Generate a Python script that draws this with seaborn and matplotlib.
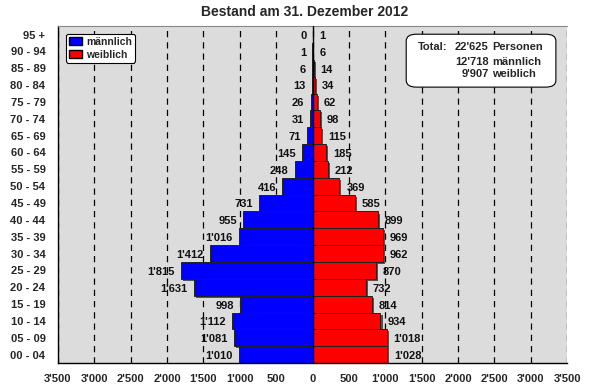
import matplotlib
matplotlib.use("Agg")
import matplotlib.pyplot as plt
import matplotlib.patheffects as pe
from matplotlib.patches import Patch, FancyBboxPatch
from matplotlib import font_manager
import seaborn as sns
import pandas as pd

# Age groups, youngest first
age_groups = ["00 - 04", "05 - 09", "10 - 14", "15 - 19", "20 - 24", "25 - 29",
              "30 - 34", "35 - 39", "40 - 44", "45 - 49", "50 - 54", "55 - 59",
              "60 - 64", "65 - 69", "70 - 74", "75 - 79", "80 - 84", "85 - 89",
              "90 - 94", "95 +"]
maennlich = [1010, 1081, 1112, 998, 1631, 1815, 1412, 1016, 955, 731,
             416, 248, 145, 71, 31, 26, 13, 6, 1, 0]
weiblich = [1028, 1018, 934, 814, 732, 870, 962, 969, 899, 585,
            369, 212, 185, 115, 98, 62, 34, 14, 6, 1]
x_ticks = [-3500, -3000, -2500, -2000, -1500, -1000, -500, 0,
           500, 1000, 1500, 2000, 2500, 3000, 3500]


def fmt(v):
    return f"{abs(int(v)):,}".replace(",", "'")


sns.set_style("white")
plt.rcParams["font.family"] = ["Liberation Sans", "DejaVu Sans"]
plt.rcParams["font.weight"] = "bold"

# regular-width bold face
bold_file = None
for f in font_manager.fontManager.ttflist:
    if f.name == "Liberation Sans" and f.weight in (700, "bold") and f.style == "normal":
        bold_file = f.fname
        break
FP = dict(fname=bold_file) if bold_file else dict(family="Liberation Sans", weight="bold")


def fp(size):
    return font_manager.FontProperties(size=size, **FP)


df = pd.DataFrame({"age": age_groups,
                   "m": [-v for v in maennlich],
                   "w": weiblich})
order = age_groups[::-1]

fig = plt.figure(figsize=(5.93, 3.90), dpi=100)
ax = fig.add_axes([0.0978, 0.069, 0.8585, 0.864])
ax.set_facecolor("#dcdcdc")

shadow = [pe.SimplePatchShadow(offset=(1.5, -1.5), shadow_rgbFace="#444444", alpha=0.9),
          pe.Normal()]

sns.barplot(data=df, x="m", y="age", order=order, orient="h", color="#0000ff",
            width=1.0, saturation=1, edgecolor="#222222", linewidth=0.7, ax=ax)
sns.barplot(data=df, x="w", y="age", order=order, orient="h", color="#ff0000",
            width=1.0, saturation=1, edgecolor="#222222", linewidth=0.7, ax=ax)
for p in ax.patches:
    p.set_path_effects(shadow)

LBL = 8
# value labels next to the bar ends
for i, age in enumerate(order):
    row = df[df["age"] == age].iloc[0]
    ax.annotate(fmt(row["m"]), (row["m"], i), xytext=(-4.5, -1), textcoords="offset points",
                ha="right", va="center", fontproperties=fp(LBL), color="#111111")
    ax.annotate(fmt(row["w"]), (row["w"], i), xytext=(5, -1), textcoords="offset points",
                ha="left", va="center", fontproperties=fp(LBL), color="#111111")

ax.set_xlim(-3500, 3500)
ax.set_ylim(len(order) - 0.5, -0.5)
ax.set_xticks(x_ticks)
ax.set_xticklabels([fmt(v) for v in x_ticks])
ax.tick_params(axis="x", direction="out", length=3, width=0.8, color="black", pad=5)
ax.tick_params(axis="y", length=0, pad=9)
for lbl in ax.get_xticklabels() + ax.get_yticklabels():
    lbl.set_fontproperties(fp(LBL))
ax.set_xlabel("")
ax.set_ylabel("")

ax.set_axisbelow(True)
ax.grid(axis="x", color="black", linestyle=(0, (5, 4)), linewidth=0.9)
ax.grid(axis="y", visible=False)
ax.axvline(0, color="black", linewidth=1.0, zorder=5)

for s in ("left", "bottom"):
    ax.spines[s].set_color("black")
    ax.spines[s].set_linewidth(1.0)
ax.spines["top"].set_color("#888888")
ax.spines["top"].set_linewidth(0.8)
ax.spines["right"].set_visible(False)

handles = [Patch(facecolor="#0000ff", edgecolor="black", label="männlich"),
           Patch(facecolor="#ff0000", edgecolor="black", label="weiblich")]
leg = ax.legend(handles=handles, loc="upper left", bbox_to_anchor=(0.016, 0.976),
                prop=fp(7.5), frameon=True, fancybox=True,
                handlelength=1.3, handleheight=0.8, handletextpad=0.4,
                borderpad=0.25, labelspacing=0.3, borderaxespad=0)
leg.get_frame().set_edgecolor("black")
leg.get_frame().set_linewidth(0.8)
leg.get_frame().set_facecolor("white")
leg.get_frame().set_alpha(1)

# totals box
box = FancyBboxPatch((0.684, 0.819), 0.294, 0.157, transform=ax.transAxes,
                     boxstyle="round,pad=0,rounding_size=0.02", facecolor="white",
                     edgecolor="black", linewidth=0.8, zorder=6)
ax.add_patch(box)
tot_m = sum(maennlich)
tot_w = sum(weiblich)
rows = [(fmt(tot_m + tot_w), "Personen", 0.938),
        (fmt(tot_m), "männlich", 0.893),
        (fmt(tot_w), "weiblich", 0.858)]
ax.text(0.707, 0.938, "Total:", transform=ax.transAxes, ha="left", va="center",
        fontproperties=fp(LBL), zorder=7)
for num, word, y in rows:
    ax.text(0.846, y, num, transform=ax.transAxes, ha="right", va="center",
            fontproperties=fp(LBL), zorder=7)
    ax.text(0.853, y, word, transform=ax.transAxes, ha="left", va="center",
            fontproperties=fp(LBL), zorder=7)

fig.text(0.513, 0.969, "Bestand am 31. Dezember 2012", ha="center", va="center",
         fontproperties=fp(10))

fig.savefig("out.png", dpi=100)
